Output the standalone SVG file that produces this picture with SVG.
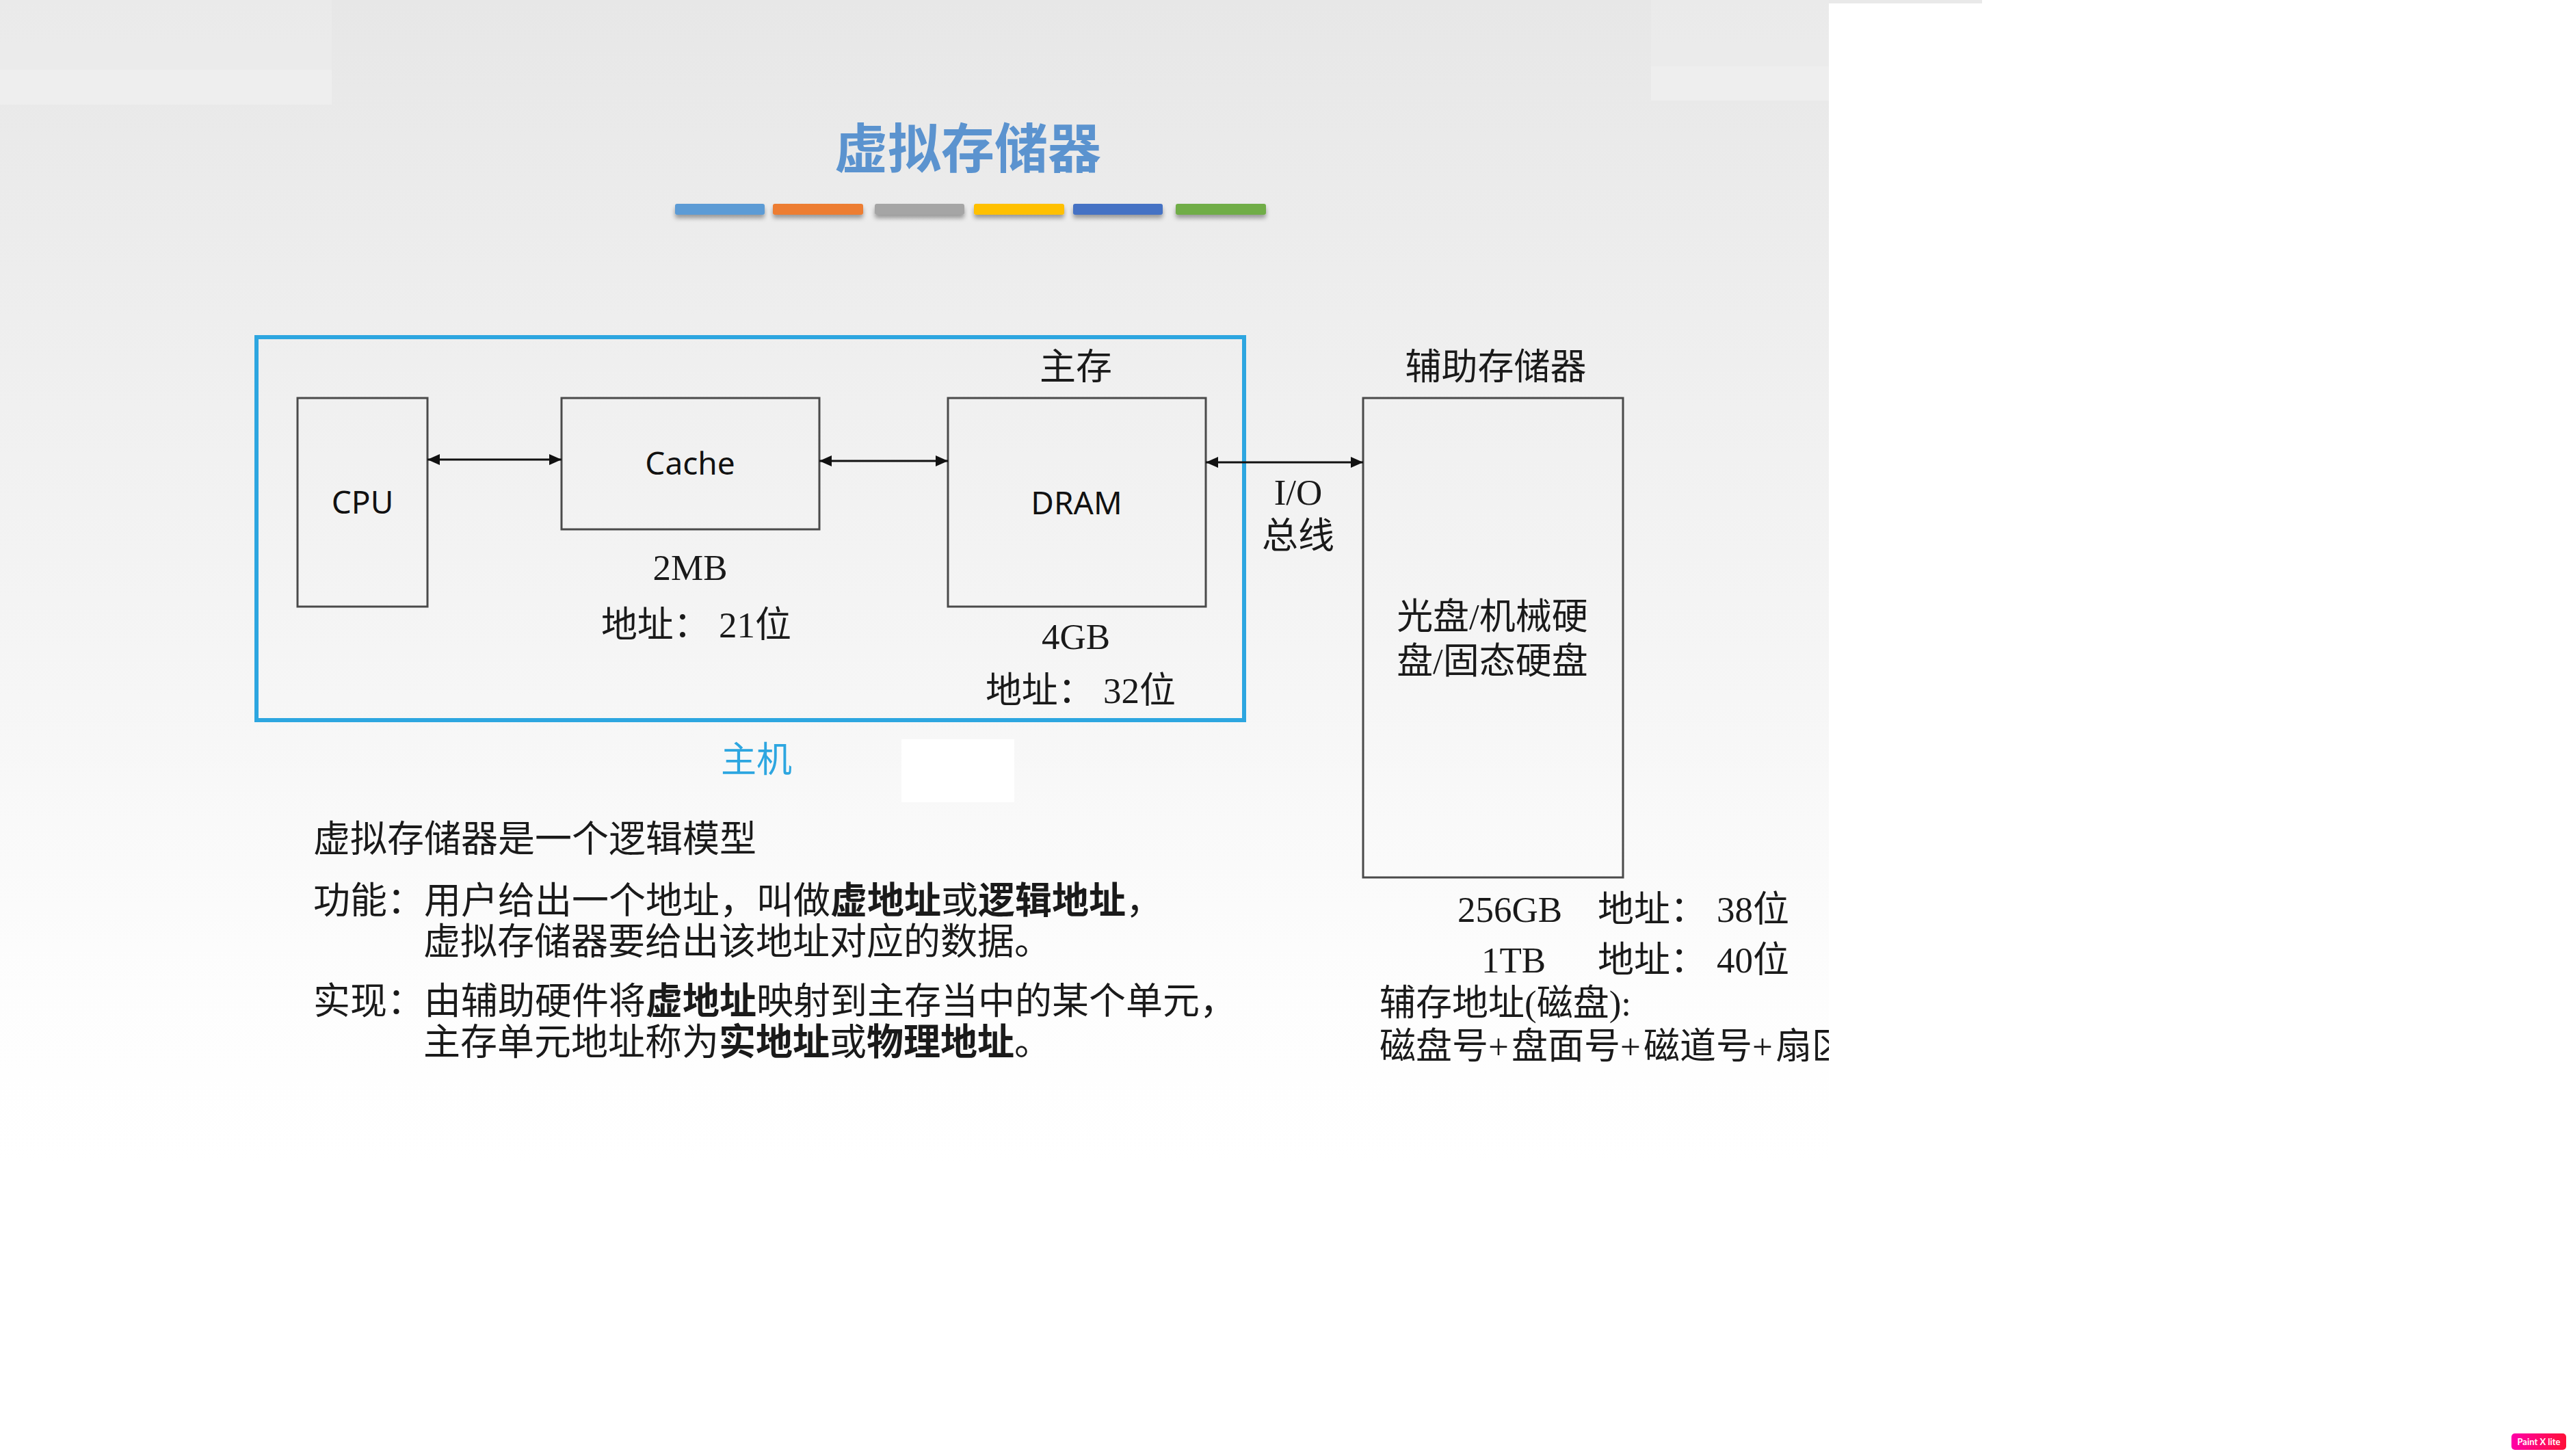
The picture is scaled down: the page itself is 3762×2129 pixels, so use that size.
<svg xmlns="http://www.w3.org/2000/svg" width="3762" height="2129" viewBox="0 0 3762 2129">
  <defs>
    <linearGradient id="bg" x1="0" y1="0" x2="0" y2="1" gradientUnits="objectBoundingBox">
      <stop offset="0" stop-color="#e7e7e7"/>
      <stop offset="0.35" stop-color="#f0f0f0"/>
      <stop offset="0.6" stop-color="#f6f6f6"/>
      <stop offset="0.85" stop-color="#fdfdfd"/>
      <stop offset="1" stop-color="#ffffff"/>
    </linearGradient>
    <linearGradient id="badge" x1="0" y1="0" x2="1" y2="0">
      <stop offset="0" stop-color="#ff00a8"/>
      <stop offset="1" stop-color="#ff1038"/>
    </linearGradient>
    <clipPath id="slide">
      <rect x="0" y="0" width="2674" height="1700"/>
    </clipPath>
    <filter id="sh" x="-5%" y="-50%" width="110%" height="250%">
      <feDropShadow dx="0" dy="5" stdDeviation="3" flood-color="#000" flood-opacity="0.35"/>
    </filter>
    <marker id="ah" viewBox="0 0 18 16" refX="18" refY="8" markerWidth="18" markerHeight="16" markerUnits="userSpaceOnUse" orient="auto-start-reverse">
      <path d="M0,0 L18,8 L0,16 z" fill="#111"/>
    </marker>
  </defs>
  <style>
    .box { fill: none; stroke: #4a4a4a; stroke-width: 3; }
    .sans { font-family: "Noto Sans", "Open Sans", sans-serif; font-size: 46px; fill: #111; }
    .lbl { font-family: "Liberation Serif", "Noto Sans CJK SC", serif; font-size: 53px; fill: #1a1a1a; }
    .body { font-family: "Noto Sans CJK SC", sans-serif; font-size: 54px; fill: #1a1a1a; }
    .b { font-weight: bold; }
    .conn { stroke: #111; stroke-width: 3; fill: none; marker-start: url(#ah); marker-end: url(#ah); }
    .bar { filter: url(#sh); }
  </style>

  <rect x="0" y="0" width="3762" height="2129" fill="#ffffff"/>

  <g id="slide-bg" clip-path="url(#slide)">
    <rect x="0" y="0" width="2674" height="1700" fill="url(#bg)"/>
    <rect x="0" y="0" width="485" height="102" fill="#ebebeb" opacity="0.8"/>
    <rect x="0" y="102" width="485" height="51" fill="#efefef" opacity="0.8"/>
    <rect x="2414" y="0" width="260" height="97" fill="#ebebeb" opacity="0.8"/>
    <rect x="2414" y="97" width="260" height="50" fill="#efefef" opacity="0.8"/>
    <rect x="1318" y="1081" width="165" height="92" fill="#ffffff"/>
  </g>
  <rect x="2674" y="0" width="224" height="5" fill="#e9e9e9"/>

  <g id="title">
    <text x="1415" y="246" text-anchor="middle" font-family="Noto Sans CJK SC, sans-serif" font-size="78" font-weight="bold" fill="#5b93cf">虚拟存储器</text>
  </g>

  <g id="color-bars">
    <rect class="bar" x="987" y="298" width="131" height="16" rx="3" fill="#5b9bd5"/>
    <rect class="bar" x="1130" y="298" width="132" height="16" rx="3" fill="#ed7d31"/>
    <rect class="bar" x="1279" y="298" width="131" height="16" rx="3" fill="#a5a5a5"/>
    <rect class="bar" x="1424" y="298" width="132" height="16" rx="3" fill="#ffc000"/>
    <rect class="bar" x="1569" y="298" width="131" height="16" rx="3" fill="#4472c4"/>
    <rect class="bar" x="1719" y="298" width="132" height="16" rx="3" fill="#70ad47"/>
  </g>

  <g id="host">
    <rect x="375" y="493" width="1444" height="560" fill="none" stroke="#2da6e0" stroke-width="6"/>
    <text x="1106" y="1129" text-anchor="middle" font-family="Noto Sans CJK SC, sans-serif" font-size="52" fill="#2da6e0">主机</text>
  </g>

  <g id="cpu">
    <rect class="box" x="435" y="582" width="190" height="305"/>
    <text class="sans" x="530" y="751" text-anchor="middle">CPU</text>
  </g>

  <g id="cache">
    <rect class="box" x="821" y="582" width="377" height="192"/>
    <text class="sans" x="1009" y="694" text-anchor="middle">Cache</text>
    <text class="lbl" x="1009" y="848" text-anchor="middle">2MB</text>
    <text class="lbl" x="1018" y="932" text-anchor="middle">地址： 21位</text>
  </g>

  <g id="dram">
    <text class="lbl" x="1573" y="555" text-anchor="middle">主存</text>
    <rect class="box" x="1386" y="582" width="377" height="305"/>
    <text class="sans" x="1574" y="752" text-anchor="middle">DRAM</text>
    <text class="lbl" x="1573" y="949" text-anchor="middle">4GB</text>
    <text class="lbl" x="1580" y="1028" text-anchor="middle">地址： 32位</text>
  </g>

  <g id="aux">
    <text class="lbl" x="2187" y="555" text-anchor="middle">辅助存储器</text>
    <rect class="box" x="1993" y="582" width="380" height="701"/>
    <text class="lbl" x="2182" y="920" text-anchor="middle">光盘/机械硬</text>
    <text class="lbl" x="2182" y="985" text-anchor="middle">盘/固态硬盘</text>
  </g>

  <g id="connectors">
    <line class="conn" x1="625" y1="672" x2="821" y2="672"/>
    <line class="conn" x1="1198" y1="674" x2="1386" y2="674"/>
    <line class="conn" x1="1763" y1="676" x2="1993" y2="676"/>
    <text class="lbl" x="1898" y="738" text-anchor="middle">I/O</text>
    <text class="lbl" x="1898" y="802" text-anchor="middle">总线</text>
  </g>

  <g id="aux-notes" clip-path="url(#slide)">
    <text class="lbl" x="2131" y="1348">256GB</text>
    <text class="lbl" x="2336" y="1348">地址：</text>
    <text class="lbl" x="2510" y="1348">38位</text>
    <text class="lbl" x="2166" y="1422">1TB</text>
    <text class="lbl" x="2336" y="1422">地址：</text>
    <text class="lbl" x="2510" y="1422">40位</text>
    <text class="lbl" x="2017" y="1485" font-size="54">辅存地址(磁盘):</text>
    <text class="lbl" y="1548"><tspan x="2017">磁盘号</tspan><tspan x="2176">+</tspan><tspan x="2210">盘面号</tspan><tspan x="2369">+</tspan><tspan x="2403">磁道号</tspan><tspan x="2562">+</tspan><tspan x="2596">扇区</tspan></text>
  </g>

  <g id="body-text">
    <text class="body" x="458" y="1246">虚拟存储器是一个逻辑模型</text>
    <text class="body" x="458" y="1336">功能：用户给出一个地址，叫做<tspan class="b">虚地址</tspan>或<tspan class="b">逻辑地址</tspan>，</text>
    <text class="body" x="619" y="1396">虚拟存储器要给出该地址对应的数据。</text>
    <text class="body" x="458" y="1483">实现：由辅助硬件将<tspan class="b">虚地址</tspan>映射到主存当中的某个单元，</text>
    <text class="body" x="619" y="1543">主存单元地址称为<tspan class="b">实地址</tspan>或<tspan class="b">物理地址</tspan>。</text>
  </g>

  <g id="badge-mark">
    <rect x="3672" y="2096" width="80" height="24" rx="5" fill="url(#badge)"/>
    <text x="3712" y="2113" text-anchor="middle" font-family="Lato, sans-serif" font-size="13" font-weight="bold" fill="#ffffff">Paint X lite</text>
  </g>
</svg>
